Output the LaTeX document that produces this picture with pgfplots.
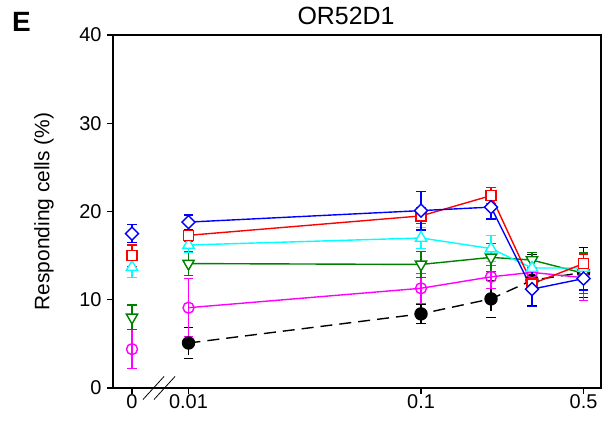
\documentclass[border=0pt]{standalone}
\usepackage{fontspec}
\setmainfont{Liberation Sans}
\usepackage{pgfplots}
\usepackage{pgfplotstable}
\pgfplotsset{compat=1.18}

% x (0 plotted at 0.005715 on the log axis), y, error
\pgfplotstableread{
x y e
0.005715 17.5 1.0
0.007 nan 0
0.01 18.8 0.8
0.1 20.1 2.2
0.2 20.5 1.35
0.3 11.2 2.0
0.5 12.4 1.3
}\blueT
\pgfplotstableread{
x y e
0.005715 15.0 1.2
0.007 nan 0
0.01 17.3 0.7
0.1 19.5 0.9
0.2 21.8 0.9
0.3 11.8 0.8
0.5 14.1 1.0
}\redT
\pgfplotstableread{
x y e
0.005715 13.7 1.2
0.007 nan 0
0.01 16.2 0.8
0.1 17.0 1.2
0.2 15.8 1.5
0.3 13.6 0.9
0.5 13.6 1.0
}\cyanT
\pgfplotstableread{
x y e
0.005715 8.0 1.4
0.007 nan 0
0.01 14.1 1.4
0.1 14.0 1.5
0.2 14.8 1.6
0.3 14.5 0.9
0.5 13.0 2.3
}\greenT
\pgfplotstableread{
x y e
0.005715 4.4 2.2
0.007 nan 0
0.01 9.1 3.3
0.1 11.3 1.7
0.2 12.6 1.3
0.3 13.1 1.4
0.5 12.5 2.6
}\magT
\pgfplotstableread{
x y e
0.01 5.1 1.8
0.1 8.4 1.1
0.2 10.1 2.1
0.3 12.2 2.9
0.5 13.1 2.8
}\blackT

\definecolor{cgreen}{RGB}{0,128,0}
\definecolor{cmag}{RGB}{255,0,255}
\definecolor{ccyan}{RGB}{0,255,255}
\definecolor{cblue}{RGB}{0,0,255}
\definecolor{cred}{RGB}{255,0,0}

\begin{document}
\begin{tikzpicture}
\begin{axis}[
  scale only axis, width=488bp, height=353bp,
  xmode=log, xmin=0.004734, xmax=0.5943,
  ymin=0, ymax=40, ytick={0,10,20,30,40},
  xtick={0.005715,0.01,0.1,0.5}, xticklabels={0,0.01,0.1,0.5},
  xminorticks=false, yminorticks=false,
  tick pos=left, tick align=outside, major tick length=6bp,
  axis line style={line width=1.1bp},
  every tick/.style={line width=1.1bp, black},
  tick label style={font=\fontsize{20}{24}\selectfont},
  /pgf/number format/assume math mode=true,
  yticklabel style={xshift=-2bp},
  xticklabel style={yshift=3bp},
  clip=false,
  unbounded coords=jump,
  every axis plot/.append style={line width=1.4bp},
  error bars/y dir=both, error bars/y explicit,
  error bars/error bar style={line width=1.1bp},
  error bars/error mark options={rotate=90, mark size=4.8bp, line width=1.1bp},
]
\coordinate (sw) at (rel axis cs:0,0);
\coordinate (ne) at (rel axis cs:1,1);

\addplot[black, dash pattern=on 12bp off 7bp, mark=*, mark size=6bp,
  mark options={solid, fill=black}]
  table[x=x, y=y, y error=e] {\blackT};
\addplot[cmag, mark=o, mark size=5.5bp, mark options={fill=white}]
  table[x=x, y=y, y error=e] {\magT};
\addplot[cgreen, mark=triangle*, mark size=6.5bp, mark options={rotate=180, fill=white}]
  table[x=x, y=y, y error=e] {\greenT};
\addplot[ccyan, mark=triangle*, mark size=6.5bp, mark options={fill=white}]
  table[x=x, y=y, y error=e] {\cyanT};
\addplot[cred, mark=square*, mark size=5bp, mark options={fill=white}]
  table[x=x, y=y, y error=e] {\redT};
\addplot[cblue, mark=square*, mark size=4.6bp, mark options={rotate=45, fill=white}]
  table[x=x, y=y, y error=e] {\blueT};

% axis break marks
\draw[line width=0.8bp] ([shift={(-45.5bp,-11.5bp)}]axis cs:0.01,0) -- ++(21bp,23bp);
\draw[line width=0.8bp] ([shift={(-34.5bp,-11.5bp)}]axis cs:0.01,0) -- ++(21bp,23bp);

\node[anchor=base, font=\fontsize{25}{30}\selectfont]
  at ([shift={(-11bp,10bp)}]rel axis cs:0.5,1) {OR52D1};
\node[anchor=base west, font=\fontsize{28}{32}\selectfont\bfseries, inner sep=0pt]
  at ([shift={(-101bp,3bp)}]rel axis cs:0,1) {E};
\node[rotate=90, anchor=center, font=\fontsize{21}{25}\selectfont]
  at ([shift={(-69bp,0bp)}]rel axis cs:0,0.5) {Responding cells (\%)};
\end{axis}
\pgfresetboundingbox
\path[use as bounding box] ([shift={(-113bp,-39bp)}]sw) rectangle ([shift={(3bp,35bp)}]ne);
\end{tikzpicture}
\end{document}
